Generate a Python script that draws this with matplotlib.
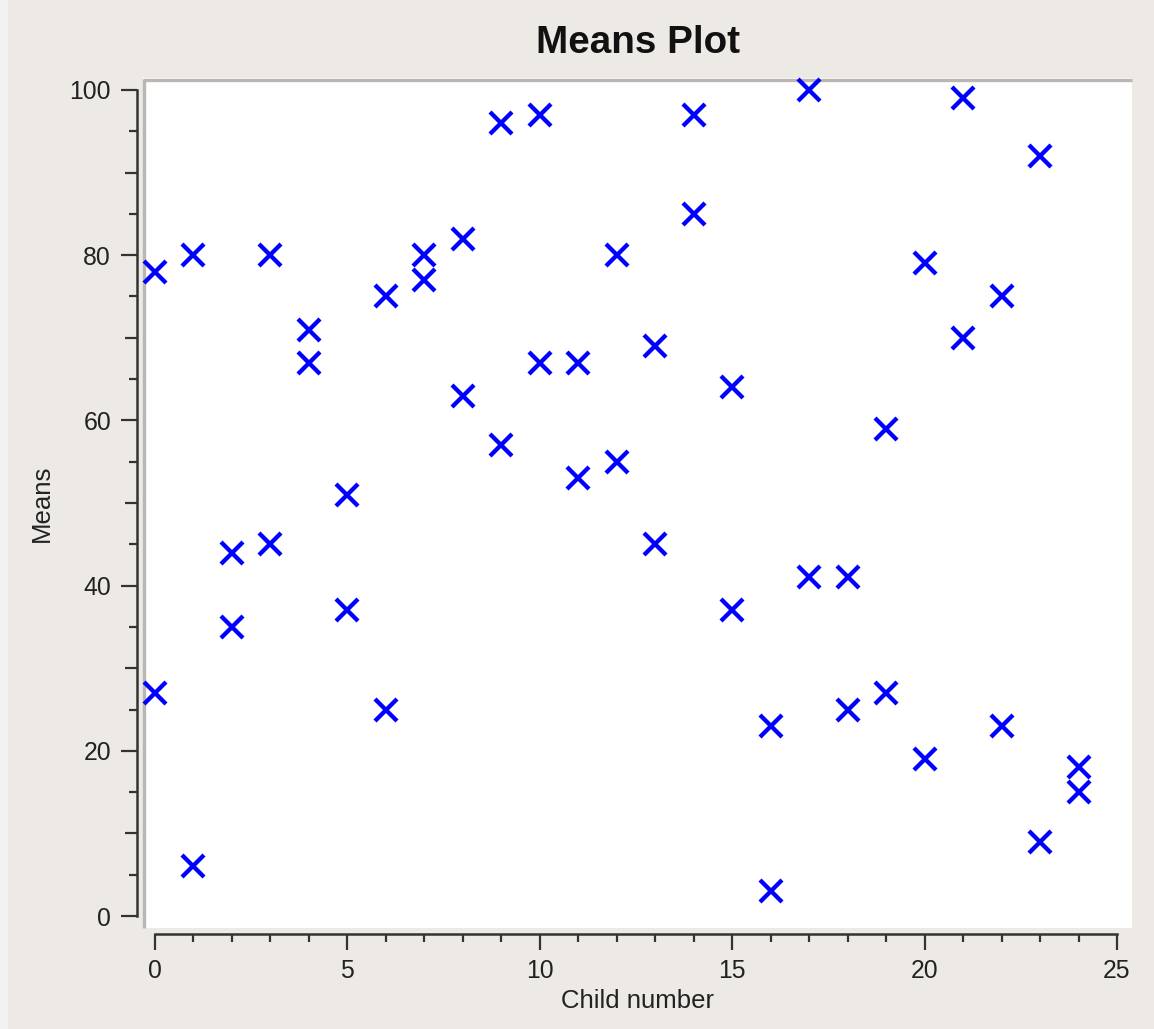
import matplotlib.pyplot as plt
from matplotlib.ticker import MultipleLocator
from matplotlib.lines import Line2D
from matplotlib.patches import Rectangle

# child number and the mean read for it (two points per child)
child_number = [0, 0, 1, 1, 2, 2, 3, 3, 4, 4, 5, 5, 6, 6, 7, 7, 8, 8, 9, 9,
                10, 10, 11, 11, 12, 12, 13, 13, 14, 14, 15, 15, 16, 16, 17, 17,
                18, 18, 19, 19, 20, 20, 21, 21, 22, 22, 23, 23, 24, 24]
means = [78, 27, 80, 6, 44, 35, 80, 45, 71, 67, 51, 37, 75, 25, 80, 77, 82, 63,
         96, 57, 97, 67, 67, 53, 80, 55, 69, 45, 97, 85, 64, 37, 23, 3, 100, 41,
         41, 25, 59, 27, 79, 19, 99, 70, 75, 23, 92, 9, 18, 15]

y_ticks = list(range(0, 101, 10))

plt.rcParams['font.family'] = ['Liberation Sans', 'DejaVu Sans']
bg = '#edeae6'
axis_col = '#333333'

W, H = 1154, 1029
fig = plt.figure(figsize=(W / 100, H / 100), dpi=100, facecolor=bg)
fig.add_artist(Rectangle((0, 0), 8 / W, 1, transform=fig.transFigure,
                         facecolor='#f2f2f2', edgecolor='none'))

ax = fig.add_axes([143 / W, 1 - 928 / H, 989 / W, 850 / H])
ax.set_facecolor('white')

ax.plot(child_number, means, linestyle='none', marker='x', color='#0000ff',
        markersize=15.5, markeredgewidth=3.1, clip_on=False, zorder=3)

ax.set_xlim(-0.31, 25.39)
ax.set_ylim(-1.45, 101.45)

for s in ['top', 'right']:
    ax.spines[s].set_visible(False)
for s in ['left', 'bottom']:
    ax.spines[s].set_position(('outward', 4.5))
    ax.spines[s].set_color(axis_col)
    ax.spines[s].set_linewidth(1.8)
ax.spines['left'].set_bounds(0, 100)
ax.spines['bottom'].set_bounds(0, 25)

# sunken frame on top and left of the plot area
ax.add_line(Line2D([0.0015, 0.0015, 1], [0, 1 - 0.0018, 1 - 0.0018],
                   transform=ax.transAxes, color='#bab6b1', lw=2.4,
                   clip_on=False, solid_capstyle='butt', zorder=1.5))

ax.xaxis.set_major_locator(MultipleLocator(5))
ax.xaxis.set_minor_locator(MultipleLocator(1))
ax.set_yticks(y_ticks)
ax.set_yticklabels([str(v) if v % 20 == 0 else '' for v in y_ticks])
ax.yaxis.set_minor_locator(MultipleLocator(5))

ax.tick_params(which='major', length=11.5, width=1.6, color=axis_col,
               labelsize=17.8, labelcolor='#222222', pad=6)
ax.tick_params(which='minor', length=5.8, width=1.6, color=axis_col)
ax.tick_params(axis='y', which='major', pad=7)

for v, t in zip(y_ticks, ax.yaxis.get_major_ticks()):
    if v % 20 != 0:
        t.tick1line.set_markersize(8.6)

ax.set_title('Means Plot', fontsize=27.8, fontweight='bold', color='#111111', pad=18)
ax.set_xlabel('Child number', fontsize=18.5, color='#222222', labelpad=5)
ax.set_ylabel('Means', fontsize=18.5, color='#222222', labelpad=11)

fig.savefig('out.png', dpi=100, facecolor=bg)
